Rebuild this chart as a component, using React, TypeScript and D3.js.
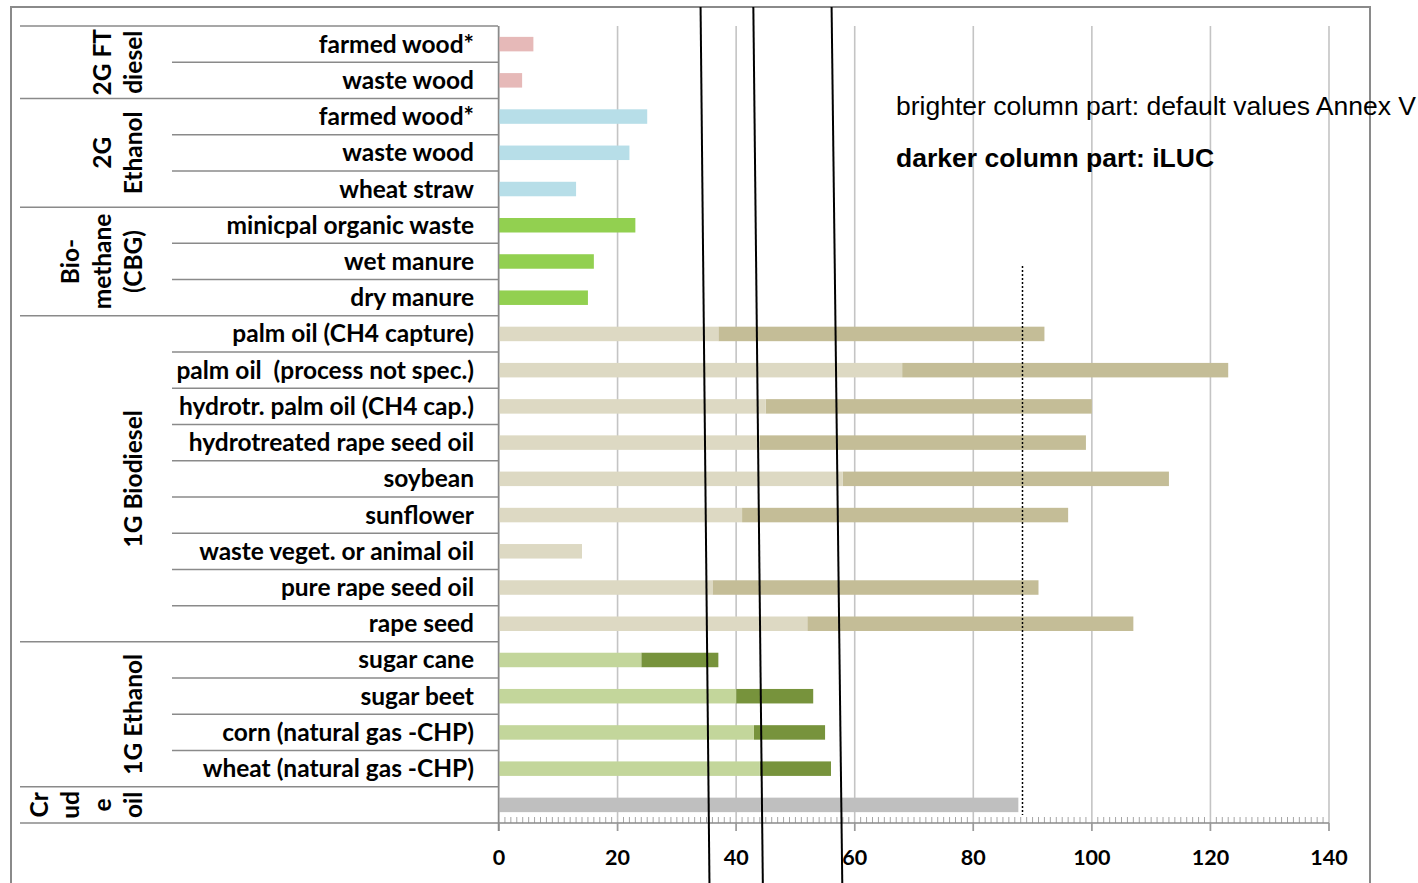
import React from "react";
import * as d3 from "d3";

const categories = [
  "farmed wood*", "waste wood",
  "farmed wood*", "waste wood", "wheat straw",
  "minicpal organic waste", "wet manure", "dry manure",
  "palm oil (CH4 capture)", "palm oil  (process not spec.)", "hydrotr. palm oil (CH4 cap.)",
  "hydrotreated rape seed oil", "soybean", "sunflower", "waste veget. or animal oil",
  "pure rape seed oil", "rape seed",
  "sugar cane", "sugar beet", "corn (natural gas -CHP)", "wheat (natural gas -CHP)",
  "",
];
// default values (brighter part)
const defaultValues = [5.8, 3.9, 25, 22, 13, 23, 16, 15, 37, 68, 45, 44, 58, 41, 14, 36, 52, 24, 40, 43, 44, 87.6];
// total incl. iLUC (end of darker part), null = no iLUC part
const totalWithILUC: (number | null)[] = [null, null, null, null, null, null, null, null, 92, 123, 100, 99, 113, 96, null, 91, 107, 37, 53, 55, 56, null];
const rowGroup = [0, 0, 1, 1, 1, 2, 2, 2, 3, 3, 3, 3, 3, 3, 3, 3, 3, 4, 4, 4, 4, 5];
const groupLines = [["2G FT", "diesel"], ["2G", "Ethanol"], ["Bio-", "methane", "(CBG)"], ["1G Biodiesel"], ["1G Ethanol"], ["Cr", "ud", "e", "oil"]];
const groupLight = ["#e6b9b8", "#b7dee8", "#92d050", "#ddd9c3", "#c3d69b", "#bfbfbf"];
const groupDark = ["#e6b9b8", "#b7dee8", "#92d050", "#c4bd97", "#77933c", "#bfbfbf"];
const xTicks = [0, 20, 40, 60, 80, 100, 120, 140];
const fossilRef = 88.3;
// hand-drawn threshold lines (value at top, value at bottom)
const thresholdTop = [34.0, 42.9, 56.1];
const thresholdBottom = [35.5, 44.5, 57.9];
const noteLine1 = "brighter column part: default values Annex V";
const noteLine2 = "darker column part: iLUC";

export default function App() {
  const W = 1418, H = 883;
  const x = d3.scaleLinear().domain([0, 140]).range([499, 1329]);
  const y = d3.scaleBand<number>().domain(d3.range(categories.length)).range([26, 823]);
  const bw = y.bandwidth();
  const barH = 14.5;
  const labelFont = "Lato, 'Open Sans', sans-serif";
  const labelSize = 24.5;
  const axisY = 823;
  const minor = d3.range(1, 140).filter((v) => v % 20 !== 0);

  // group spans
  const groups = groupLines.map((lines, g) => {
    const rows = rowGroup.map((gg, i) => (gg === g ? i : -1)).filter((i) => i >= 0);
    const y0 = y(rows[0])!;
    const y1 = y(rows[rows.length - 1])! + bw;
    return { lines, y0, y1 };
  });

  return (
    <svg width={W} height={H} style={{ position: "absolute", left: 0, top: 0, background: "#fff" }}>
      {/* outer frame */}
      <rect x={11} y={7} width={1359} height={920} fill="none" stroke="#8a8a8a" strokeWidth={2} />

      {/* gridlines */}
      {xTicks.map((t) => (
        <line key={"g" + t} x1={x(t)} x2={x(t)} y1={26} y2={831} stroke="#c4c4c4" strokeWidth={1.6} />
      ))}
      {/* minor ticks */}
      {minor.map((t) => (
        <line key={"m" + t} x1={x(t)} x2={x(t)} y1={817} y2={axisY} stroke="#a6a6a6" strokeWidth={1} />
      ))}
      <line x1={x(0)} x2={x(140)} y1={axisY} y2={axisY} stroke="#8a8a8a" strokeWidth={1.5} />
      {xTicks.map((t) => (
        <line key={"t" + t} x1={x(t)} x2={x(t)} y1={axisY} y2={831} stroke="#9a9a9a" strokeWidth={1.5} />
      ))}
      {xTicks.map((t) => (
        <text key={"l" + t} x={x(t)} y={865} textAnchor="middle" fontFamily={labelFont} fontWeight="bold" fontSize={21.5} fill="#000">
          {t}
        </text>
      ))}

      {/* bars */}
      {categories.map((c, i) => {
        const g = rowGroup[i];
        const cy = y(i)! + bw / 2;
        const tot = totalWithILUC[i];
        return (
          <g key={"b" + i}>
            {tot != null && (
              <rect x={x(defaultValues[i])} y={cy - barH / 2} width={x(tot) - x(defaultValues[i])} height={barH} fill={groupDark[g]} />
            )}
            <rect x={x(0)} y={cy - barH / 2} width={x(defaultValues[i]) - x(0)} height={barH} fill={groupLight[g]} />
          </g>
        );
      })}

      {/* dotted fossil reference */}
      <line x1={x(fossilRef)} x2={x(fossilRef)} y1={266} y2={815} stroke="#000" strokeWidth={1.5} strokeDasharray="2,2" />

      {/* label table lines */}
      <line x1={498.5} x2={498.5} y1={26} y2={831} stroke="#8a8a8a" strokeWidth={1.5} />
      {d3.range(categories.length + 1).map((i) => {
        const yy = i < categories.length ? y(i)! : 823;
        const isGroupEdge = i === 0 || i === categories.length || rowGroup[i] !== rowGroup[i - 1];
        return (
          <line key={"r" + i} x1={isGroupEdge ? 20 : 172} x2={498} y1={yy} y2={yy} stroke="#8a8a8a" strokeWidth={1.5} />
        );
      })}

      {/* category labels */}
      {categories.map((c, i) => (
        <text key={"c" + i} x={474} y={y(i)! + bw / 2 + 8.5} textAnchor="end" fontFamily={labelFont} fontWeight="bold" fontSize={labelSize} fill="#000" style={{ whiteSpace: "pre" }}>
          {c}
        </text>
      ))}

      {/* group labels */}
      {groups.map((g, gi) => {
        const cy = (g.y0 + g.y1) / 2;
        const n = g.lines.length;
        return g.lines.map((ln, li) => {
          const bx = 142 - 31.5 * (n - 1 - li);
          return (
            <text key={"gl" + gi + "-" + li} transform={`translate(${bx},${cy}) rotate(-90)`} textAnchor="middle" fontFamily={labelFont} fontWeight="bold" fontSize={labelSize} fill="#000">
              {ln}
            </text>
          );
        });
      })}

      {/* notes */}
      <text x={896} y={115} fontFamily="'Liberation Sans', Arial, sans-serif" fontSize={26.5} fill="#000">{noteLine1}</text>
      <text x={896} y={167} fontFamily="'Liberation Sans', Arial, sans-serif" fontSize={26.5} fontWeight="bold" fill="#000">{noteLine2}</text>

      {/* threshold lines */}
      {thresholdTop.map((v, i) => (
        <line key={"th" + i} x1={x(v)} y1={7} x2={x(thresholdBottom[i])} y2={883} stroke="#000" strokeWidth={2} />
      ))}
    </svg>
  );
}
